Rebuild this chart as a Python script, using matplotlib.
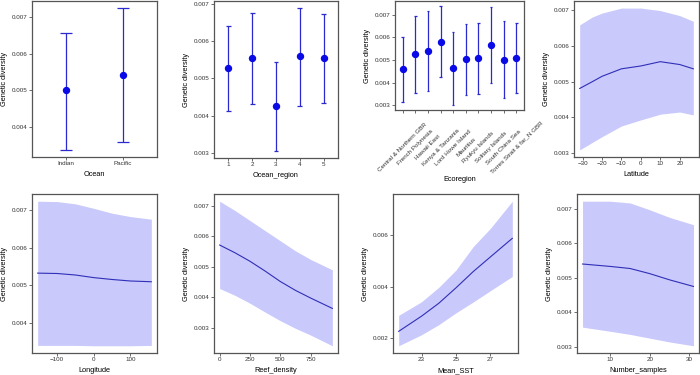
import numpy as np
import matplotlib
matplotlib.use("Agg")
import matplotlib.pyplot as plt
from matplotlib.ticker import FormatStrFormatter

plt.rcParams["font.family"] = ["Liberation Sans", "DejaVu Sans"]

# Categorical panels: mean and 95% interval
ocean = ["Indian", "Pacific"]
ocean_mean = [0.00500, 0.00542]
ocean_lo = [0.00338, 0.00360]
ocean_hi = [0.00657, 0.00724]

region = ["1", "2", "3", "4", "5"]
region_mean = [0.00527, 0.00554, 0.00425, 0.00559, 0.00554]
region_lo = [0.00412, 0.00432, 0.00306, 0.00427, 0.00435]
region_hi = [0.00641, 0.00674, 0.00545, 0.00688, 0.00671]

ecoregion = ["Central & Northern GBR", "French Polynesia", "Hawaii East",
             "Kenya & Tanzania", "Lord Howe Island", "Mauritius",
             "Ryukyu Islands", "Solitary Islands", "South China Sea",
             "Torres Strait & far_N GBR"]
eco_mean = [0.00459, 0.00526, 0.00539, 0.00581, 0.00464, 0.00503,
            0.00507, 0.00565, 0.00501, 0.00509]
eco_lo = [0.00316, 0.00355, 0.00361, 0.00423, 0.00301, 0.00346,
          0.00352, 0.00399, 0.00332, 0.00354]
eco_hi = [0.00600, 0.00696, 0.00717, 0.00739, 0.00625, 0.00661,
          0.00665, 0.00735, 0.00672, 0.00665]

# Continuous panels: fitted line with confidence ribbon
lat_x = [-31.5, -25, -20, -10, 0, 10, 20, 27]
lat_fit = [0.00481, 0.00500, 0.00515, 0.00536, 0.00544, 0.00556, 0.00548, 0.00536]
lat_lo = [0.00309, 0.00330, 0.00346, 0.00376, 0.00393, 0.00409, 0.00415, 0.00407]
lat_hi = [0.00659, 0.00681, 0.00692, 0.00706, 0.00706, 0.00699, 0.00685, 0.00669]

lon_x = [-153, -100, -50, 0, 50, 100, 157]
lon_fit = [0.00532, 0.00531, 0.00527, 0.00520, 0.00515, 0.00511, 0.00509]
lon_lo = [0.00339, 0.00339, 0.00339, 0.00338, 0.00338, 0.00338, 0.00339]
lon_hi = [0.00724, 0.00723, 0.00717, 0.00705, 0.00692, 0.00683, 0.00676]

reef_x = [0, 125, 250, 375, 500, 625, 750, 930]
reef_fit = [0.00571, 0.00546, 0.00518, 0.00486, 0.00452, 0.00423, 0.00398, 0.00364]
reef_lo = [0.00429, 0.00407, 0.00381, 0.00352, 0.00324, 0.00299, 0.00277, 0.00242]
reef_hi = [0.00714, 0.00684, 0.00651, 0.00618, 0.00585, 0.00552, 0.00524, 0.00490]

sst_x = [21.67, 23, 24, 25, 26, 27, 28.27]
sst_fit = [0.00226, 0.00285, 0.00335, 0.00395, 0.00458, 0.00515, 0.00587]
sst_lo = [0.00170, 0.00213, 0.00252, 0.00298, 0.00340, 0.00384, 0.00439]
sst_hi = [0.00288, 0.00341, 0.00397, 0.00464, 0.00555, 0.00626, 0.00731]

ns_x = [3, 10, 15, 20, 25, 31]
ns_fit = [0.00540, 0.00533, 0.00527, 0.00512, 0.00494, 0.00475]
ns_lo = [0.00357, 0.00345, 0.00336, 0.00325, 0.00314, 0.00303]
ns_hi = [0.00722, 0.00722, 0.00717, 0.00697, 0.00675, 0.00654]

PT_BLUE = "#0a0ae8"
BAR_BLUE = "#2a2ad0"
LINE_BLUE = "#2f2fb8"
RIBBON = "#c9c9fb"

W, H = 700, 375
fig = plt.figure(figsize=(7, 3.75), dpi=100)


def make_ax(left, top, right, bottom):
    ax = fig.add_axes([left / W, 1 - bottom / H, (right - left) / W, (bottom - top) / H])
    for s in ax.spines.values():
        s.set_color("#555555")
        s.set_linewidth(0.9)
    ax.tick_params(length=2, width=0.5, color="#333333", labelsize=4.5,
                   labelcolor="#333333", pad=1.2)
    ax.yaxis.set_major_formatter(FormatStrFormatter("%.3f"))
    ax.set_ylabel("Genetic diversity", fontsize=5.3, labelpad=3)
    return ax


def cat_panel(ax, labels, mean, lo, hi, xlabel):
    x = np.arange(1, len(labels) + 1)
    ax.vlines(x, lo, hi, color=BAR_BLUE, lw=0.9)
    ax.hlines(lo, x - 0.1, x + 0.1, color=BAR_BLUE, lw=0.9)
    ax.hlines(hi, x - 0.1, x + 0.1, color=BAR_BLUE, lw=0.9)
    ax.plot(x, mean, "o", color=PT_BLUE, ms=4.3, zorder=3)
    ax.set_xlim(0.4, len(labels) + 0.6)
    ax.set_xticks(x)
    ax.set_xticklabels(labels)
    ax.set_xlabel(xlabel, fontsize=5.3, labelpad=3.5)


def cont_panel(ax, x, fit, lo, hi, xlabel):
    ax.fill_between(x, lo, hi, color=RIBBON, lw=0)
    ax.plot(x, fit, color=LINE_BLUE, lw=0.8)
    ax.set_xlabel(xlabel, fontsize=5.3, labelpad=3.5)


ax1 = make_ax(32, 1, 157, 157)
cat_panel(ax1, ocean, ocean_mean, ocean_lo, ocean_hi, "Ocean")
ax1.set_yticks([0.004, 0.005, 0.006, 0.007])

ax2 = make_ax(214, 1, 338, 158)
cat_panel(ax2, region, region_mean, region_lo, region_hi, "Ocean_region")
ax2.set_yticks([0.003, 0.004, 0.005, 0.006, 0.007])

ax3 = make_ax(395, 1, 524, 110)
cat_panel(ax3, ecoregion, eco_mean, eco_lo, eco_hi, "Ecoregion")
ax3.set_yticks([0.003, 0.004, 0.005, 0.006, 0.007])
ax3.tick_params(axis="x", pad=25)
for t in ax3.get_xticklabels():
    t.set_rotation(45)
    t.set_ha("center")
    t.set_va("center")
    t.set_rotation_mode("anchor")
ax3.xaxis.labelpad = 1

ax4 = make_ax(574, 1, 699, 157)
cont_panel(ax4, lat_x, lat_fit, lat_lo, lat_hi, "Latitude")
ax4.set_xticks([-30, -20, -10, 0, 10, 20])
ax4.set_yticks([0.003, 0.004, 0.005, 0.006, 0.007])

ax5 = make_ax(32, 194, 157, 353)
cont_panel(ax5, lon_x, lon_fit, lon_lo, lon_hi, "Longitude")
ax5.set_xticks([-100, 0, 100])
ax5.set_yticks([0.004, 0.005, 0.006, 0.007])

ax6 = make_ax(214, 194, 338, 353)
cont_panel(ax6, reef_x, reef_fit, reef_lo, reef_hi, "Reef_density")
ax6.set_xticks([0, 250, 500, 750])
ax6.set_yticks([0.003, 0.004, 0.005, 0.006, 0.007])

ax7 = make_ax(393, 194, 518, 353)
cont_panel(ax7, sst_x, sst_fit, sst_lo, sst_hi, "Mean_SST")
ax7.set_xticks([23, 25, 27])
ax7.set_yticks([0.002, 0.004, 0.006])

ax8 = make_ax(577, 194, 699, 353)
cont_panel(ax8, ns_x, ns_fit, ns_lo, ns_hi, "Number_samples")
ax8.set_xticks([10, 20, 30])
ax8.set_yticks([0.003, 0.004, 0.005, 0.006, 0.007])

fig.savefig("out.png", dpi=100)
